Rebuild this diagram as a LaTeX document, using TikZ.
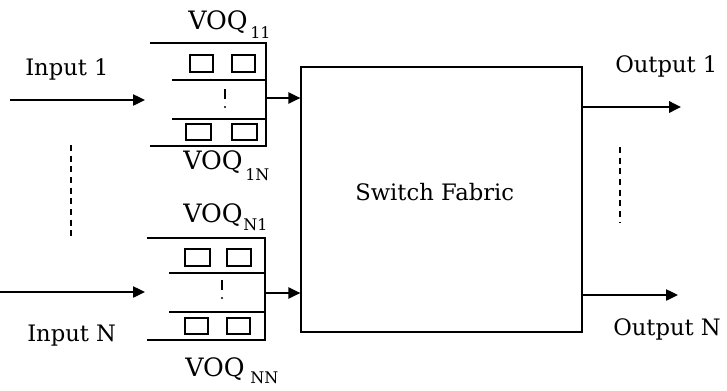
\documentclass[tikz,border=0pt]{standalone}
\usepackage{fontspec}
\setmainfont{DejaVu Serif}
\usetikzlibrary{arrows.meta}
\begin{document}
\begin{tikzpicture}[x=0.75pt,y=-0.75pt,
  ln/.style={line width=1pt},
  arr/.style={ln,-{Triangle[length=9pt,width=8.5pt]}},
  lbl/.style={inner sep=0pt,anchor=base west,font=\fontsize{17}{20}\selectfont},
  voq/.style={inner sep=0pt,anchor=base west,font=\fontsize{19}{22}\selectfont},
  sub/.style={inner sep=0pt,anchor=base west,font=\fontsize{12}{13}\selectfont},
  cell/.style={ln},
  dsh/.style={ln,dash pattern=on 4.5pt off 3.5pt}]
\useasboundingbox (0,0) rectangle (727,390);
% switch fabric
\node[draw,ln,minimum width=210.75pt,minimum height=198.75pt,inner sep=0pt] (fab) at (441.5,199.5) {};
\node[lbl] (fabt) at (355,200) {Switch Fabric};
% queue 1
\coordinate (q1a) at (150,43); \coordinate (q1b) at (266,43);
\coordinate (q1c) at (266,146); \coordinate (q1d) at (150,146);
\draw[ln] (q1a) -- (q1b) -- (q1c) -- (q1d);
\draw[ln] (172,80) -- (266,80) (172,119) -- (266,119);
\draw[cell] (190,55) rectangle (213,72) (232,55) rectangle (255,72);
\draw[cell] (186,124) rectangle (211,140) (232,124) rectangle (257,140);
\draw[ln] (225,89) -- (225,99);
\fill (225,107) circle (0.9pt);
% queue N
\coordinate (qNa) at (147,238); \coordinate (qNb) at (265,238);
\coordinate (qNc) at (265,340); \coordinate (qNd) at (147,340);
\draw[ln] (qNa) -- (qNb) -- (qNc) -- (qNd);
\draw[ln] (169,273) -- (265,273) (169,312) -- (265,312);
\draw[cell] (185,249) rectangle (210,266) (227,249) rectangle (251,266);
\draw[cell] (185,318) rectangle (208,334) (227,318) rectangle (250,334);
\draw[ln] (222,280) -- (222,290);
\fill (222,298) circle (0.9pt);
% VOQ labels
\node[voq] (v11) at (188,29) {VOQ};
\node[sub] (v11s) at (250,38) {11};
\node[voq] (v1N) at (183,169) {VOQ};
\node[sub] (v1Ns) at (245,180) {1N};
\node[voq] (vN1) at (183,222) {VOQ};
\node[sub] (vN1s) at (243,230) {N1};
\node[voq] (vNN) at (185,376) {VOQ};
\node[sub] (vNNs) at (250,383) {NN};
% inputs
\coordinate (i1s) at (10,100); \coordinate (i1e) at (145,100);
\coordinate (iNs) at (0,292); \coordinate (iNe) at (145,292);
\draw[arr] (i1s) -- (i1e);
\draw[arr] (iNs) -- (iNe);
\node[lbl] (in1) at (25,75) {Input 1};
\node[lbl] (inN) at (27,341) {Input N};
\draw[dsh] (71,145) -- (71,237);
% queue to fabric
\coordinate (q1o) at (266,98); \coordinate (qNo) at (265,293);
\draw[arr] (q1o) -- (q1o -| fab.west);
\draw[arr] (qNo) -- (qNo -| fab.west);
% outputs
\coordinate (o1s) at (582,107); \coordinate (o1e) at (681,107);
\coordinate (oNs) at (582,295); \coordinate (oNe) at (678,295);
\draw[arr,line width=1.8pt] (o1s) -- (o1e);
\draw[arr] (oNs) -- (oNe);
\node[lbl] (out1) at (615,72) {Output 1};
\node[lbl] (outN) at (613,335) {Output N};
\draw[dsh] (620,147) -- (620,223);
\end{tikzpicture}
\end{document}
